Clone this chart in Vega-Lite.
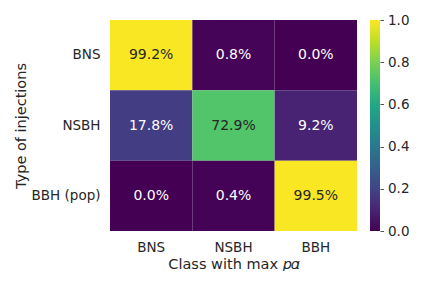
{
  "$schema": "https://vega.github.io/schema/vega-lite/v6.json",
  "autosize": "pad",
  "padding": {"left": 13, "top": 13, "right": 0, "bottom": 0},
  "background": "white",
  "spacing": 13,
  "config": {
    "font": "DejaVu Sans",
    "view": {"stroke": null},
    "axis": {"domain": false, "ticks": false, "grid": false, "labelFontSize": 13.5, "labelColor": "#262626", "titleFontSize": 14.5, "titleFontWeight": "normal", "titleColor": "#262626", "labelFont": "DejaVu Sans", "titleFont": "DejaVu Sans"}
  },
  "data": {
    "values": [
      {"inj": "BNS", "cls": "BNS", "v": 0.992},
      {"inj": "BNS", "cls": "NSBH", "v": 0.008},
      {"inj": "BNS", "cls": "BBH", "v": 0.0},
      {"inj": "NSBH", "cls": "BNS", "v": 0.178},
      {"inj": "NSBH", "cls": "NSBH", "v": 0.729},
      {"inj": "NSBH", "cls": "BBH", "v": 0.092},
      {"inj": "BBH (pop)", "cls": "BNS", "v": 0.0},
      {"inj": "BBH (pop)", "cls": "NSBH", "v": 0.004},
      {"inj": "BBH (pop)", "cls": "BBH", "v": 0.995}
    ]
  },
  "hconcat": [
    {
      "width": 247,
      "height": 211,
      "encoding": {
        "x": {"field": "cls", "type": "nominal", "sort": ["BNS", "NSBH", "BBH"], "title": "Class with max 𝑝𝛼", "axis": {"labelAngle": 0, "labelPadding": 9, "titlePadding": 4}},
        "y": {"field": "inj", "type": "nominal", "sort": ["BNS", "NSBH", "BBH (pop)"], "title": "Type of injections", "axis": {"labelPadding": 10, "titlePadding": 3}}
      },
      "layer": [
        {
          "mark": {"type": "rect"},
          "encoding": {
            "color": {"field": "v", "type": "quantitative", "scale": {"scheme": "viridis", "domain": [0, 1]}, "legend": null}
          }
        },
        {
          "mark": {"type": "text", "fontSize": 14, "font": "DejaVu Sans"},
          "encoding": {
            "text": {"field": "v", "type": "quantitative", "format": ".1%"},
            "color": {"condition": {"test": "datum.v > 0.5", "value": "#262626"}, "value": "white"}
          }
        }
      ]
    },
    {
      "width": 10,
      "height": 211,
      "data": {"values": [{"lo": 0, "hi": 1}]},
      "mark": {
        "type": "rect",
        "color": {
          "gradient": "linear", "x1": 0, "y1": 1, "x2": 0, "y2": 0,
          "stops": [
            {"offset": 0.0, "color": "#440154"},
            {"offset": 0.1, "color": "#482475"},
            {"offset": 0.2, "color": "#414487"},
            {"offset": 0.3, "color": "#355f8d"},
            {"offset": 0.4, "color": "#2a788e"},
            {"offset": 0.5, "color": "#21918c"},
            {"offset": 0.6, "color": "#22a884"},
            {"offset": 0.7, "color": "#44bf70"},
            {"offset": 0.8, "color": "#7ad151"},
            {"offset": 0.9, "color": "#bddf26"},
            {"offset": 1.0, "color": "#fde725"}
          ]
        }
      },
      "encoding": {
        "y": {"field": "lo", "type": "quantitative", "scale": {"domain": [0, 1], "nice": false, "zero": false},
          "axis": {"orient": "right", "title": null, "values": [0, 0.2, 0.4, 0.6, 0.8, 1.0], "format": ".1f", "ticks": true, "tickSize": 3.5, "tickColor": "#262626", "tickWidth": 0.8, "labelPadding": 4, "labelFontSize": 13.5}},
        "y2": {"field": "hi"}
      }
    }
  ]
}
